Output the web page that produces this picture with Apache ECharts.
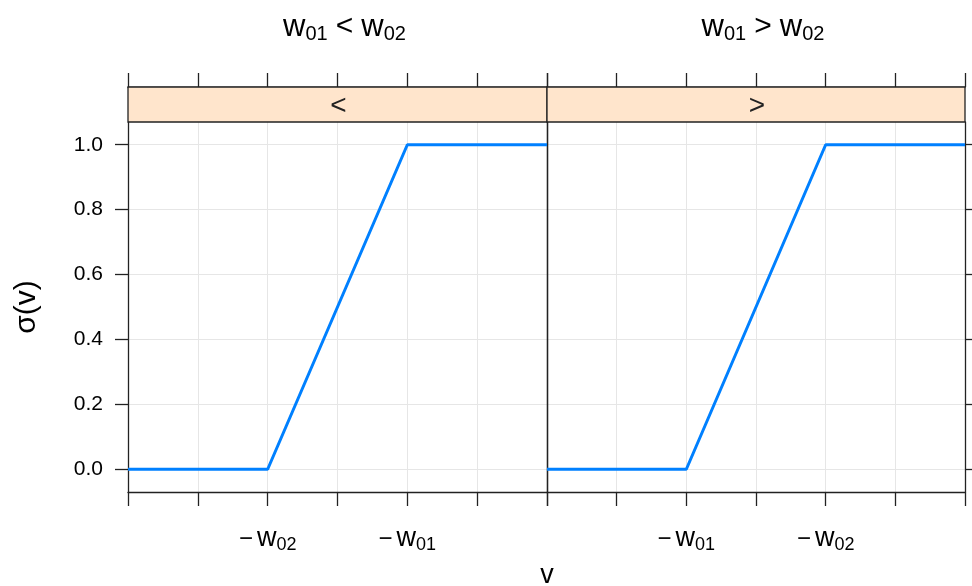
<!DOCTYPE html>
<html>
<head>
<meta charset="utf-8">
<script src="https://cdn.jsdelivr.net/npm/echarts@6/dist/echarts.min.js"></script>
<style>
html,body{margin:0;padding:0;background:#fff;}
#chart{width:972px;height:586px;}
</style>
</head>
<body>
<div id="chart"></div>
<script>
// ---- data ----
const xTicks = [0, 1, 2, 3, 4, 5, 6];
const yTicks = [0, 0.2, 0.4, 0.6, 0.8, 1.0];
const yTickLabels = ['0.0', '0.2', '0.4', '0.6', '0.8', '1.0'];
const panel1X = [0, 2, 4, 6];
const panel1Y = [0, 0, 1, 1];
const panel2X = [0, 2, 4, 6];
const panel2Y = [0, 0, 1, 1];
const panel1TickLabels = ['', '', '{m|−}{w|w}{s|02}', '', '{m|−}{w|w}{s|01}', '', ''];
const panel2TickLabels = ['', '', '{m|−}{w|w}{s|01}', '', '{m|−}{w|w}{s|02}', '', ''];
const panelTitles = ['{w|w}{s|01}{op|<}{w|w}{s|02}', '{w|w}{s|01}{op|>}{w|w}{s|02}'];
const stripLabels = ['<', '>'];
const yName = 'σ(v)';
const xName = 'v';

// ---- layout ----
const FONT = '"Liberation Sans", Helvetica, Arial, sans-serif';
const P = [{left: 128, width: 419}, {left: 547, width: 418}];
const TOP = 122, BOTTOM_Y = 492, STRIP_H = 35;
const H = BOTTOM_Y - TOP;
const BORDER = '#222';
const GRIDC = '#e6e6e6';

const chart = echarts.init(document.getElementById('chart'), null, {renderer: 'canvas'});

const tickRich = {
  m: {fontSize: 24, fontFamily: FONT, color: '#000', padding: [0, 4, 0, 0], verticalAlign: 'middle', lineHeight: 30},
  w: {fontSize: 27, fontFamily: FONT, color: '#000', verticalAlign: 'middle', lineHeight: 30},
  s: {fontSize: 18, fontFamily: FONT, color: '#000', verticalAlign: 'bottom', lineHeight: 18}
};
const titleRich = {
  w: {fontSize: 31, fontFamily: FONT, fontWeight: 'normal', color: '#000', verticalAlign: 'middle', lineHeight: 34},
  s: {fontSize: 20, fontFamily: FONT, fontWeight: 'normal', color: '#000', verticalAlign: 'bottom', lineHeight: 20},
  op: {fontSize: 30, fontFamily: FONT, fontWeight: 'normal', color: '#000', padding: [0, 8], verticalAlign: 'middle', lineHeight: 34}
};

const grids = P.map(p => ({left: p.left, width: p.width, top: TOP, height: H, containLabel: false}));

const xAxes = [];
const yAxes = [];
[panel1TickLabels, panel2TickLabels].forEach((labels, i) => {
  // bottom axis
  xAxes.push({
    type: 'value', gridIndex: i, min: 0, max: 6, interval: 1, position: 'bottom',
    axisLine: {show: true, onZero: false, lineStyle: {color: BORDER, width: 1.3}},
    axisTick: {show: true, inside: false, length: 14, lineStyle: {color: BORDER, width: 1.3}},
    splitLine: {show: true, lineStyle: {color: GRIDC, width: 1}},
    axisLabel: {show: true, margin: 32, interval: 0, showMinLabel: true, showMaxLabel: true,
      formatter: v => labels[Math.round(v)] || '', rich: tickRich}
  });
  // top axis above the strip
  xAxes.push({
    type: 'value', gridIndex: i, min: 0, max: 6, interval: 1, position: 'top', offset: STRIP_H,
    axisLine: {show: true, onZero: false, lineStyle: {color: BORDER, width: 1.3}},
    axisTick: {show: true, inside: false, length: 14, lineStyle: {color: BORDER, width: 1.3}},
    splitLine: {show: false},
    axisLabel: {show: false}
  });
  // left axis
  yAxes.push({
    type: 'value', gridIndex: i, min: -0.07, max: 1.07, position: 'left',
    axisLine: {show: true, onZero: false, lineStyle: {color: BORDER, width: 1.3}},
    axisTick: {show: i === 0, inside: false, length: 13, customValues: yTicks, lineStyle: {color: BORDER, width: 1.3}},
    splitLine: {show: true, lineStyle: {color: GRIDC, width: 1}},
    axisLabel: {show: i === 0, margin: 25, customValues: yTicks,
      formatter: v => { const k = yTicks.findIndex(t => Math.abs(t - v) < 1e-6); return k >= 0 ? yTickLabels[k] : ''; },
      fontSize: 21, fontFamily: FONT, color: '#000'},
    name: i === 0 ? yName : '', nameLocation: 'middle', nameGap: 86, nameRotate: 90,
    nameTextStyle: {fontSize: 30, fontFamily: FONT, color: '#000'}
  });
  // right axis
  yAxes.push({
    type: 'value', gridIndex: i, min: -0.07, max: 1.07, position: 'right',
    axisLine: {show: true, onZero: false, lineStyle: {color: BORDER, width: 1.3}},
    axisTick: {show: i === 1, inside: false, length: 13, customValues: yTicks, lineStyle: {color: BORDER, width: 1.3}},
    splitLine: {show: false},
    axisLabel: {show: false, customValues: yTicks}
  });
});

const series = [
  {type: 'line', xAxisIndex: 0, yAxisIndex: 0, data: panel1X.map((x, k) => [x, panel1Y[k]])},
  {type: 'line', xAxisIndex: 2, yAxisIndex: 2, data: panel2X.map((x, k) => [x, panel2Y[k]])}
].map(s => Object.assign(s, {showSymbol: false, symbol: 'none', silent: true, clip: true,
  lineStyle: {color: '#0080ff', width: 3}, z: 5}));

const titles = panelTitles.map((t, i) => ({
  text: t, left: P[i].left + P[i].width / 2 + 2, top: 5, textAlign: 'center',
  textStyle: {fontWeight: 'normal', rich: titleRich}
}));

const graphics = [];
P.forEach((p, i) => {
  graphics.push({
    type: 'rect', shape: {x: p.left, y: TOP - STRIP_H, width: p.width, height: STRIP_H},
    style: {fill: '#ffe5cc', stroke: BORDER, lineWidth: 1.3}, z: 1, silent: true
  });
  graphics.push({
    type: 'text', x: p.left + p.width / 2 + 1, y: TOP - STRIP_H / 2 + 2,
    style: {text: stripLabels[i], fontSize: 28, fontFamily: FONT, fill: '#222', align: 'center', verticalAlign: 'middle'},
    z: 2, silent: true
  });
});
graphics.push({
  type: 'text', x: P[1].left, y: 576,
  style: {text: xName, fontSize: 27, fontFamily: FONT, fill: '#000', align: 'center', verticalAlign: 'middle'},
  silent: true
});

chart.setOption({
  backgroundColor: '#fff',
  animation: false,
  title: titles,
  grid: grids,
  xAxis: xAxes,
  yAxis: yAxes,
  series: series,
  graphic: graphics
});
</script>
</body>
</html>
